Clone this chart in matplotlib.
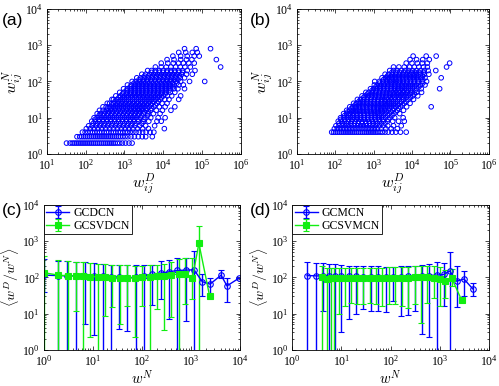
import numpy as np
import matplotlib
matplotlib.use('Agg')
import matplotlib.pyplot as plt
from matplotlib.ticker import LogLocator, NullFormatter

plt.rcParams['font.family'] = 'serif'
plt.rcParams['font.serif'] = ['Liberation Serif', 'DejaVu Serif']
plt.rcParams['mathtext.fontset'] = 'cm'

blue = '#0000ff'
green = '#11ee11'

# ---- scatter (a): w_ij^N level -> log10(w_ij^D) values
a_rows = [
    (2, [1.51, 1.60, 1.66, 1.71, 1.76, 1.81, 1.86, 1.91, 1.96, 2.01, 2.06, 2.11, 2.16, 2.21, 2.26, 2.31,
         2.36, 2.41, 2.46, 2.51, 2.56, 2.61, 2.66, 2.71, 2.76, 2.82, 2.88, 2.95, 3.03, 3.12, 3.20]),
    (3, [1.78, 1.85, 1.90, 1.95, 2.00, 2.05, 2.10, 2.15, 2.20, 2.25, 2.30, 2.35, 2.40, 2.45, 2.50, 2.55,
         2.60, 2.65, 2.70, 2.75, 2.80, 2.85, 2.90, 2.96, 3.02, 3.09, 3.17, 3.26, 3.36, 3.46, 3.55, 3.72]),
    (4, [1.92, 1.99, 2.06, 2.12, 2.18, 2.24, 2.30, 2.36, 2.42, 2.48, 2.54, 2.60, 2.66, 2.72, 2.78, 2.84,
         2.90, 2.96, 3.02, 3.08, 3.15, 3.22, 3.30, 3.38, 3.47, 3.56, 3.66, 3.76]),
    (5, [2.02, 2.12, 2.22, 2.32, 2.42, 2.52, 2.62, 2.72, 2.82, 2.92, 3.02, 3.12, 3.22, 3.34, 3.47, 3.62, 4.03]),
    (6, [2.08, 2.17, 2.27, 2.37, 2.47, 2.57, 2.67, 2.77, 2.87, 2.97, 3.07, 3.17, 3.28, 3.40, 3.55, 3.78]),
    (8, [2.16, 2.25, 2.35, 2.45, 2.55, 2.65, 2.75, 2.85, 2.95, 3.05, 3.15, 3.25, 3.36, 3.49, 3.63, 3.84, 3.95]),
    (10, [2.22, 2.30, 2.40, 2.50, 2.60, 2.70, 2.80, 2.90, 3.00, 3.10, 3.20, 3.30, 3.41, 3.53, 3.68, 3.87, 4.05]),
    (13, [2.30, 2.38, 2.48, 2.58, 2.68, 2.78, 2.88, 2.98, 3.08, 3.18, 3.28, 3.38, 3.49, 3.61, 3.75, 3.92]),
    (16, [2.36, 2.45, 2.55, 2.65, 2.75, 2.85, 2.95, 3.05, 3.15, 3.25, 3.35, 3.45, 3.56, 3.68, 3.82, 3.98, 4.20]),
    (20, [2.45, 2.53, 2.63, 2.73, 2.83, 2.93, 3.03, 3.13, 3.23, 3.33, 3.43, 3.53, 3.64, 3.76, 3.90, 4.05, 4.30]),
    (25, [2.56, 2.62, 2.72, 2.82, 2.92, 3.02, 3.12, 3.22, 3.32, 3.42, 3.52, 3.62, 3.72, 3.84, 3.97, 4.10]),
    (32, [2.68, 2.72, 2.81, 2.91, 3.01, 3.11, 3.21, 3.31, 3.41, 3.51, 3.61, 3.71, 3.81, 3.92, 4.04, 4.15, 4.40]),
    (40, [2.78, 2.90, 3.00, 3.10, 3.20, 3.30, 3.40, 3.50, 3.60, 3.70, 3.80, 3.90, 4.00, 4.11, 4.22, 4.45]),
    (50, [2.88, 2.98, 3.08, 3.18, 3.28, 3.38, 3.48, 3.58, 3.68, 3.78, 3.88, 3.98, 4.08, 4.18, 4.30]),
    (63, [2.98, 3.08, 3.18, 3.28, 3.38, 3.48, 3.58, 3.68, 3.78, 3.88, 3.98, 4.08, 4.18, 4.28, 4.38, 4.55]),
    (80, [3.08, 3.18, 3.28, 3.38, 3.48, 3.58, 3.68, 3.78, 3.88, 3.98, 4.08, 4.18, 4.28, 4.40, 4.52]),
    (100, [3.20, 3.30, 3.40, 3.50, 3.60, 3.70, 3.80, 3.90, 4.00, 4.10, 4.20, 4.32, 4.45, 4.68, 5.07]),
    (126, [3.32, 3.42, 3.52, 3.62, 3.72, 3.82, 3.92, 4.02, 4.12, 4.22, 4.32, 4.44, 4.55]),
    (158, [3.45, 3.55, 3.65, 3.75, 3.85, 3.95, 4.05, 4.15, 4.25, 4.35, 4.47, 4.60, 4.75]),
    (200, [3.60, 3.70, 3.80, 3.90, 4.00, 4.10, 4.20, 4.30, 4.40, 4.50, 4.62, 4.82]),
    (250, [3.80, 3.95, 4.08, 4.20, 4.32, 4.44, 4.56, 4.70, 5.48]),
    (320, [3.95, 4.12, 4.26, 4.40, 4.52, 4.66, 4.80]),
    (400, [4.10, 4.28, 4.45, 4.60, 4.74, 5.37]),
    (500, [4.25, 4.45, 4.62, 4.80, 4.93]),
    (630, [4.40, 4.58, 4.75, 4.88]),
    (800, [4.55, 4.85, 5.22]),
]
# extra points where the cloud of (a) is solid
a_core_rows = [
    (7, [2.20, 2.30, 2.40, 2.50, 2.60, 2.70, 2.80, 2.90, 3.00, 3.10, 3.20, 3.30, 3.45]),
    (9, [2.25, 2.35, 2.45, 2.55, 2.65, 2.75, 2.85, 2.95, 3.05, 3.15, 3.25, 3.35, 3.50]),
    (11.5, [2.35, 2.45, 2.55, 2.65, 2.75, 2.85, 2.95, 3.05, 3.15, 3.25, 3.35, 3.45, 3.60]),
    (14.5, [2.50, 2.60, 2.70, 2.80, 2.90, 3.00, 3.10, 3.20, 3.30, 3.40, 3.50, 3.62]),
    (18, [2.58, 2.68, 2.78, 2.88, 2.98, 3.08, 3.18, 3.28, 3.38, 3.48, 3.58, 3.70]),
    (22.5, [2.68, 2.78, 2.88, 2.98, 3.08, 3.18, 3.28, 3.38, 3.48, 3.58, 3.68, 3.80]),
    (28, [2.76, 2.86, 2.96, 3.06, 3.16, 3.26, 3.36, 3.46, 3.56, 3.66, 3.76, 3.88]),
    (36, [2.86, 2.96, 3.06, 3.16, 3.26, 3.36, 3.46, 3.56, 3.66, 3.76, 3.86, 3.96]),
    (45, [2.95, 3.05, 3.15, 3.25, 3.35, 3.45, 3.55, 3.65, 3.75, 3.85, 3.95, 4.05]),
    (56, [3.05, 3.15, 3.25, 3.35, 3.45, 3.55, 3.65, 3.75, 3.85, 3.95, 4.05, 4.15]),
    (71, [3.15, 3.25, 3.35, 3.45, 3.55, 3.65, 3.75, 3.85, 3.95, 4.05, 4.15, 4.25]),
    (90, [3.25, 3.35, 3.45, 3.55, 3.65, 3.75, 3.85, 3.95, 4.05, 4.15, 4.25, 4.35]),
    (112, [3.38, 3.48, 3.58, 3.68, 3.78, 3.88, 3.98, 4.08, 4.18, 4.28, 4.38]),
    (141, [3.52, 3.62, 3.72, 3.82, 3.92, 4.02, 4.12, 4.22, 4.32, 4.42]),
    (178, [3.70, 3.80, 3.90, 4.00, 4.10, 4.20, 4.30, 4.40, 4.50]),
]

# ---- scatter (b)
b_rows = [
    (4, [1.91, 1.96, 2.01, 2.06, 2.11, 2.16, 2.21, 2.26, 2.31, 2.36, 2.41, 2.46, 2.51, 2.56, 2.61, 2.66,
         2.71, 2.76, 2.81, 2.86, 2.91, 2.96, 3.01, 3.06, 3.11, 3.17, 3.23, 3.30, 3.38, 3.48, 3.58, 3.70, 3.85]),
    (5, [1.98, 2.06, 2.14, 2.22, 2.30, 2.38, 2.46, 2.54, 2.62, 2.70, 2.78, 2.86, 2.94, 3.02, 3.10, 3.20, 3.32, 3.46, 3.62]),
    (6, [2.02, 2.10, 2.18, 2.26, 2.34, 2.42, 2.50, 2.58, 2.66, 2.74, 2.82, 2.90, 2.98, 3.06, 3.15, 3.25, 3.37, 3.52, 3.72]),
    (8, [2.08, 2.16, 2.25, 2.34, 2.43, 2.52, 2.61, 2.70, 2.79, 2.88, 2.97, 3.06, 3.15, 3.25, 3.36, 3.50, 3.65, 3.80]),
    (10, [2.14, 2.22, 2.31, 2.40, 2.49, 2.58, 2.67, 2.76, 2.85, 2.94, 3.03, 3.12, 3.21, 3.31, 3.42, 3.55, 3.77]),
    (13, [2.22, 2.30, 2.39, 2.48, 2.57, 2.66, 2.75, 2.84, 2.93, 3.02, 3.11, 3.20, 3.30, 3.41, 3.53, 3.68]),
    (16, [2.30, 2.38, 2.47, 2.56, 2.65, 2.74, 2.83, 2.92, 3.01, 3.10, 3.19, 3.29, 3.39, 3.50, 3.62, 3.78]),
    (20, [2.38, 2.46, 2.55, 2.64, 2.73, 2.82, 2.91, 3.00, 3.09, 3.18, 3.27, 3.37, 3.47, 3.58, 3.70, 3.86, 4.50]),
    (25, [2.48, 2.56, 2.65, 2.74, 2.83, 2.92, 3.01, 3.10, 3.19, 3.28, 3.37, 3.47, 3.57, 3.68, 3.80, 3.95]),
    (32, [2.58, 2.66, 2.75, 2.84, 2.93, 3.02, 3.11, 3.20, 3.29, 3.38, 3.47, 3.57, 3.67, 3.78, 3.90, 4.04]),
    (40, [2.70, 2.78, 2.87, 2.96, 3.05, 3.14, 3.23, 3.32, 3.41, 3.50, 3.59, 3.69, 3.79, 3.90, 4.02, 4.15]),
    (50, [2.80, 2.88, 2.97, 3.06, 3.15, 3.24, 3.33, 3.42, 3.51, 3.60, 3.69, 3.79, 3.89, 4.00, 4.12, 4.25]),
    (63, [2.92, 3.00, 3.09, 3.18, 3.27, 3.36, 3.45, 3.54, 3.63, 3.72, 3.81, 3.91, 4.01, 4.12, 4.24, 4.72]),
    (80, [3.02, 3.10, 3.19, 3.28, 3.37, 3.46, 3.55, 3.64, 3.73, 3.82, 3.91, 4.01, 4.11, 4.22, 4.34]),
    (100, [3.03, 3.15, 3.24, 3.33, 3.42, 3.51, 3.60, 3.69, 3.78, 3.87, 3.96, 4.06, 4.16, 4.27, 4.38]),
    (126, [3.22, 3.31, 3.40, 3.49, 3.58, 3.67, 3.76, 3.85, 3.94, 4.03, 4.13, 4.23, 4.34, 4.76]),
    (158, [3.30, 3.40, 3.49, 3.58, 3.67, 3.76, 3.85, 3.94, 4.03, 4.12, 4.22, 4.32, 4.44]),
    (200, [3.42, 3.52, 3.62, 3.72, 3.82, 3.92, 4.02, 4.12, 4.22, 4.32, 4.42, 4.62]),
    (250, [3.52, 3.66, 3.80, 3.94, 4.06, 4.18, 4.30, 4.40, 4.90]),
    (320, [3.85, 4.00, 4.14, 4.27, 4.40, 4.98]),
    (400, [3.95, 4.12, 4.28, 4.45]),
    (500, [4.03, 4.37, 4.63]),
]
b_core_rows = [
    (7, [2.10, 2.20, 2.30, 2.40, 2.50, 2.60, 2.70, 2.80, 2.90, 3.00, 3.10, 3.20, 3.30]),
    (9, [2.15, 2.25, 2.35, 2.45, 2.55, 2.65, 2.75, 2.85, 2.95, 3.05, 3.15, 3.25, 3.38]),
    (11.5, [2.25, 2.35, 2.45, 2.55, 2.65, 2.75, 2.85, 2.95, 3.05, 3.15, 3.25, 3.36, 3.48]),
    (14.5, [2.33, 2.43, 2.53, 2.63, 2.73, 2.83, 2.93, 3.03, 3.13, 3.23, 3.33, 3.45, 3.58]),
    (18, [2.42, 2.52, 2.62, 2.72, 2.82, 2.92, 3.02, 3.12, 3.22, 3.32, 3.42, 3.53, 3.65]),
    (22.5, [2.52, 2.62, 2.72, 2.82, 2.92, 3.02, 3.12, 3.22, 3.32, 3.42, 3.52, 3.63, 3.75]),
    (28, [2.62, 2.72, 2.82, 2.92, 3.02, 3.12, 3.22, 3.32, 3.42, 3.52, 3.62, 3.73, 3.85]),
    (36, [2.74, 2.84, 2.94, 3.04, 3.14, 3.24, 3.34, 3.44, 3.54, 3.64, 3.74, 3.85, 3.96]),
    (45, [2.84, 2.94, 3.04, 3.14, 3.24, 3.34, 3.44, 3.54, 3.64, 3.74, 3.84, 3.95, 4.06]),
    (56, [2.96, 3.06, 3.16, 3.26, 3.36, 3.46, 3.56, 3.66, 3.76, 3.86, 3.96, 4.08]),
    (71, [3.06, 3.16, 3.26, 3.36, 3.46, 3.56, 3.66, 3.76, 3.86, 3.96, 4.06, 4.18]),
    (90, [3.16, 3.26, 3.36, 3.46, 3.56, 3.66, 3.76, 3.86, 3.96, 4.06, 4.16, 4.28]),
    (112, [3.26, 3.36, 3.46, 3.56, 3.66, 3.76, 3.86, 3.96, 4.06, 4.16, 4.28]),
    (141, [3.36, 3.46, 3.56, 3.66, 3.76, 3.86, 3.96, 4.06, 4.16, 4.28]),
    (178, [3.48, 3.58, 3.68, 3.78, 3.88, 3.98, 4.08, 4.18, 4.30]),
]

# ---- (c) <w^D/w^N> vs w^N : value, upper and lower end of error bar
c_blue_x = [1, 2, 3, 4.6, 6.9, 10.5, 16, 24, 35, 51, 75, 110, 162, 240, 355, 530, 780, 1150, 1700, 2450, 4100, 5400, 9500]
c_blue_y = [115, 112, 110, 110, 108, 107, 106, 103, 100, 98, 100, 110, 120, 130, 142, 155, 158, 162, 76, 65, 115, 58, 95]
c_blue_hi = [320, 290, 280, 270, 260, 250, 235, 225, 220, 215, 215, 215, 225, 275, 310, 345, 350, 545, 120, 94, 158, 94, 95]
c_blue_lo = [40, 0.1, 0.1, 0.1, 5, 2.5, 0.1, 0.1, 3.7, 3.3, 0.1, 0.1, 17, 26, 7, 0.1, 6.3, 0.1, 31, 31, 94, 21, 95]

c_green_x = [1, 2, 3.2, 4.5, 6.3, 9, 12.7, 18, 25, 36, 51, 72, 102, 145, 205, 280, 400, 570, 760, 1070, 1450, 2400]
c_green_y = [135, 115, 110, 108, 106, 105, 104, 100, 98, 97, 95, 97, 100, 105, 108, 112, 118, 122, 125, 95, 870, 30]
c_green_hi = [400, 310, 275, 270, 260, 250, 240, 230, 225, 220, 215, 210, 210, 215, 220, 240, 270, 320, 340, 340, 2600, 30]
c_green_lo = [0.1, 0.1, 0.1, 12, 0.1, 2.3, 0.1, 8.7, 15, 5, 16, 2.2, 16, 0.1, 13, 3.5, 7.8, 0.1, 18, 26, 0.1, 30]

# ---- (d)
d_blue_x = [2, 3, 4.2, 5.6, 7.5, 10, 14, 20, 28, 40, 56, 80, 112, 160, 225, 315, 440, 610, 860, 1200, 1600, 2200, 3100, 4700]
d_blue_y = [112, 110, 108, 110, 108, 108, 110, 108, 105, 105, 104, 103, 105, 105, 106, 105, 108, 112, 115, 120, 150, 78, 90, 48]
d_blue_hi = [260, 250, 245, 240, 230, 220, 210, 205, 200, 200, 200, 195, 195, 200, 205, 210, 215, 230, 265, 250, 510, 200, 150, 68]
d_blue_lo = [0.1, 0.1, 12, 0.1, 0.1, 3, 7, 10, 13, 12, 12, 11, 22, 8.8, 9, 12, 2.8, 2.2, 0.1, 16, 0.1, 15, 30, 30]

d_green_x = [4, 5, 6, 7.2, 9, 12, 16, 21, 28, 38, 50, 68, 92, 125, 170, 230, 310, 420, 560, 760, 1000, 1250, 1750, 2800]
d_green_y = [100, 92, 95, 93, 95, 95, 96, 96, 95, 96, 95, 96, 97, 96, 97, 98, 100, 105, 105, 95, 88, 80, 95, 23]
d_green_hi = [200, 180, 180, 180, 185, 185, 185, 185, 185, 185, 185, 185, 190, 195, 195, 195, 200, 210, 210, 200, 195, 160, 170, 23]
d_green_lo = [0.1, 0.1, 0.1, 0.1, 9.6, 16, 20, 18, 18, 20, 18, 16, 18, 18, 16, 14, 18, 5.5, 20, 27, 16, 27, 56, 23]


def style_axes(ax, xlim, ylim):
    ax.set_xscale('log')
    ax.set_yscale('log')
    ax.set_xlim(*xlim)
    ax.set_ylim(*ylim)
    for a in (ax.xaxis, ax.yaxis):
        a.set_major_locator(LogLocator(base=10, numticks=10))
        a.set_minor_locator(LogLocator(base=10, subs=np.arange(2, 10), numticks=10))
        a.set_minor_formatter(NullFormatter())
    ax.tick_params(which='both', direction='in', top=True, right=True, width=0.5, labelsize=8.5)
    ax.tick_params(axis='x', pad=3)
    ax.tick_params(axis='y', pad=2.5)
    ax.tick_params(which='major', length=3)
    ax.tick_params(which='minor', length=1.5)
    for s in ax.spines.values():
        s.set_linewidth(0.6)


def scatter_rows(ax, rows):
    xs, ys = [], []
    for n, logd in rows:
        for v in logd:
            xs.append(10 ** v)
            ys.append(n)
    ax.scatter(xs, ys, s=11, facecolors='none', edgecolors=blue, linewidths=0.7)


def err_series(ax, x, y, hi, lo, color, marker, label, mfc):
    y = np.array(y, float)
    yerr = [y - np.array(lo, float), np.array(hi, float) - y]
    ax.errorbar(x, y, yerr=yerr, color=color, marker=marker, ms=4, mfc=mfc, mec=color, mew=0.8,
                lw=1.0, elinewidth=1.0, capsize=2, capthick=0.9, label=label)


fig = plt.figure(figsize=(4.99, 3.86), dpi=100)
ax_a = fig.add_axes([0.0936, 0.601, 0.389, 0.376])
ax_b = fig.add_axes([0.5946, 0.601, 0.385, 0.376])
ax_c = fig.add_axes([0.0872, 0.094, 0.394, 0.375])
ax_d = fig.add_axes([0.5858, 0.094, 0.394, 0.375])

for ax, rows in ((ax_a, a_rows + a_core_rows), (ax_b, b_rows + b_core_rows)):
    scatter_rows(ax, rows)
    style_axes(ax, (1e1, 1e6), (1e0, 1e4))
    ax.set_xlabel(r'$w_{ij}^{D}$', fontsize=11.5, labelpad=-1)
    ax.set_ylabel(r'$w_{ij}^{N}$', fontsize=11.5, labelpad=0)

err_series(ax_c, c_blue_x, c_blue_y, c_blue_hi, c_blue_lo, blue, 'o', 'GCDCN', 'none')
err_series(ax_c, c_green_x, c_green_y, c_green_hi, c_green_lo, green, 's', 'GCSVDCN', green)
err_series(ax_d, d_blue_x, d_blue_y, d_blue_hi, d_blue_lo, blue, 'o', 'GCMCN', 'none')
err_series(ax_d, d_green_x, d_green_y, d_green_hi, d_green_lo, green, 's', 'GCSVMCN', green)

for ax in (ax_c, ax_d):
    style_axes(ax, (1e0, 1e4), (1e0, 1e4))
    ax.set_xlabel(r'$w^{N}$', fontsize=10.5, labelpad=0)
    ax.set_ylabel(r'$\langle w^{D}/w^{N}\rangle$', fontsize=10, labelpad=0.5)
    leg = ax.legend(loc='upper left', bbox_to_anchor=(0, 1), borderaxespad=0, fontsize=8.5,
                    handlelength=2.0, handletextpad=0.3, borderpad=0.2, labelspacing=0.05,
                    fancybox=False, framealpha=1)
    leg.get_frame().set_edgecolor('black')
    leg.get_frame().set_linewidth(0.6)

for lab, x, y in (('(a)', 0.004, 0.948), ('(b)', 0.500, 0.948), ('(c)', 0.004, 0.454), ('(d)', 0.500, 0.454)):
    fig.text(x, y, lab, fontsize=12.5, family='Liberation Sans', va='center', ha='left')

fig.savefig('out.png', dpi=100)
